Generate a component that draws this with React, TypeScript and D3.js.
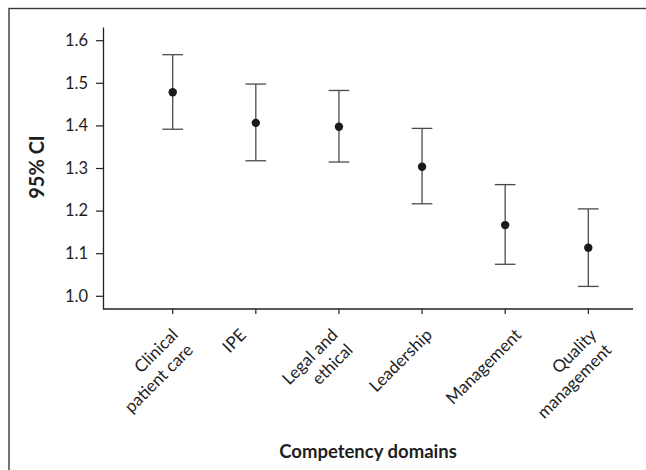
import { useEffect, useRef } from "react";
import * as d3 from "d3";

const categories = [
  ["Clinical", "patient care"],
  ["IPE"],
  ["Legal and", "ethical"],
  ["Leadership"],
  ["Management"],
  ["Quality", "management"],
];
const means = [1.478, 1.406, 1.397, 1.303, 1.166, 1.113];
const lower = [1.391, 1.317, 1.314, 1.216, 1.074, 1.022];
const upper = [1.566, 1.497, 1.482, 1.393, 1.261, 1.204];
const yTicks = [1.0, 1.1, 1.2, 1.3, 1.4, 1.5, 1.6];

const W = 646;
const H = 470;
const FONT = "Lato, Carlito, Calibri, 'Open Sans', sans-serif";

const App = () => {
  const svgRef = useRef<SVGSVGElement>(null);

  useEffect(() => {
    const svg = d3.select(svgRef.current);
    svg.selectAll("*").remove();

    const plot = { left: 103, right: 633, top: 27, bottom: 309 };

    // outer frame (only top and left edges fall inside the picture)
    svg
      .append("rect")
      .attr("x", 9)
      .attr("y", 8.5)
      .attr("width", 700)
      .attr("height", 600)
      .attr("fill", "white")
      .attr("stroke", "#3a3a3a")
      .attr("stroke-width", 1.4);

    const idx = categories.map((_, i) => i);
    const x = d3.scalePoint<number>().domain(idx).range([172.7, 588.3]);
    const y = d3
      .scaleLinear()
      .domain([0.969, 1.631])
      .range([plot.bottom, plot.top]);

    // y axis
    const yAxis = svg
      .append("g")
      .attr("transform", `translate(${plot.left},0)`)
      .call(
        d3
          .axisLeft(y)
          .tickValues(yTicks)
          .tickFormat(d3.format(".1f"))
          .tickSize(7)
          .tickSizeOuter(0)
          .tickPadding(8)
      );
    yAxis.select(".domain").attr("stroke", "#222").attr("stroke-width", 1.3);
    yAxis.selectAll(".tick line").attr("stroke", "#222").attr("stroke-width", 1.2);
    yAxis
      .selectAll(".tick text")
      .attr("fill", "#1e1e1e")
      .style("font-family", FONT)
      .style("font-size", "16.5px");

    // x axis line + ticks
    svg
      .append("line")
      .attr("x1", plot.left)
      .attr("x2", plot.right)
      .attr("y1", plot.bottom)
      .attr("y2", plot.bottom)
      .attr("stroke", "#222")
      .attr("stroke-width", 1.3);
    svg
      .append("g")
      .selectAll("line")
      .data(idx)
      .join("line")
      .attr("x1", (d) => x(d)!)
      .attr("x2", (d) => x(d)!)
      .attr("y1", plot.bottom)
      .attr("y2", plot.bottom + 5)
      .attr("stroke", "#222")
      .attr("stroke-width", 1.2);

    // rotated category labels
    const labelsG = svg.append("g");
    categories.forEach((lines, i) => {
      const g = labelsG.append("g");
      const t = g
        .append("text")
        .attr("transform", "rotate(-45)")
        .attr("text-anchor", "end")
        .attr("fill", "#1e1e1e")
        .style("font-family", FONT)
        .style("font-size", "17px");
      lines.forEach((ln, j) =>
        t
          .append("tspan")
          .attr("x", 0)
          .attr("dy", j === 0 ? 0 : "1.25em")
          .text(ln)
      );
      const bb = (g.node() as SVGGElement).getBBox();
      g.attr(
        "transform",
        `translate(${x(i)! - 22 - (bb.x + bb.width / 2)},${324 - bb.y})`
      );
    });

    // error bars
    const cap = 10.3;
    const bars = svg.append("g").attr("stroke", "#4a4a4a").attr("stroke-width", 1.3);
    bars
      .selectAll("line.v")
      .data(idx)
      .join("line")
      .attr("class", "v")
      .attr("x1", (d) => x(d)!)
      .attr("x2", (d) => x(d)!)
      .attr("y1", (d) => y(lower[d]))
      .attr("y2", (d) => y(upper[d]));
    bars
      .selectAll("line.top")
      .data(idx)
      .join("line")
      .attr("class", "top")
      .attr("x1", (d) => x(d)! - cap)
      .attr("x2", (d) => x(d)! + cap)
      .attr("y1", (d) => y(upper[d]))
      .attr("y2", (d) => y(upper[d]));
    bars
      .selectAll("line.bot")
      .data(idx)
      .join("line")
      .attr("class", "bot")
      .attr("x1", (d) => x(d)! - cap)
      .attr("x2", (d) => x(d)! + cap)
      .attr("y1", (d) => y(lower[d]))
      .attr("y2", (d) => y(lower[d]));

    svg
      .append("g")
      .selectAll("circle")
      .data(idx)
      .join("circle")
      .attr("cx", (d) => x(d)!)
      .attr("cy", (d) => y(means[d]))
      .attr("r", 4.2)
      .attr("fill", "#1a1a1a");

    // axis titles
    svg
      .append("text")
      .attr("transform", `translate(44,167) rotate(-90)`)
      .attr("text-anchor", "middle")
      .attr("fill", "#1e1e1e")
      .style("font-family", FONT)
      .style("font-weight", "bold")
      .style("font-size", "20px")
      .text("95% CI");
    svg
      .append("text")
      .attr("x", (plot.left + plot.right) / 2)
      .attr("y", 458)
      .attr("text-anchor", "middle")
      .attr("fill", "#1e1e1e")
      .style("font-family", FONT)
      .style("font-weight", "bold")
      .style("font-size", "18.5px")
      .text("Competency domains");
  }, []);

  return (
    <svg
      ref={svgRef}
      width={W}
      height={H}
      style={{ position: "absolute", left: 0, top: 0, background: "white" }}
    />
  );
};

export default App;
